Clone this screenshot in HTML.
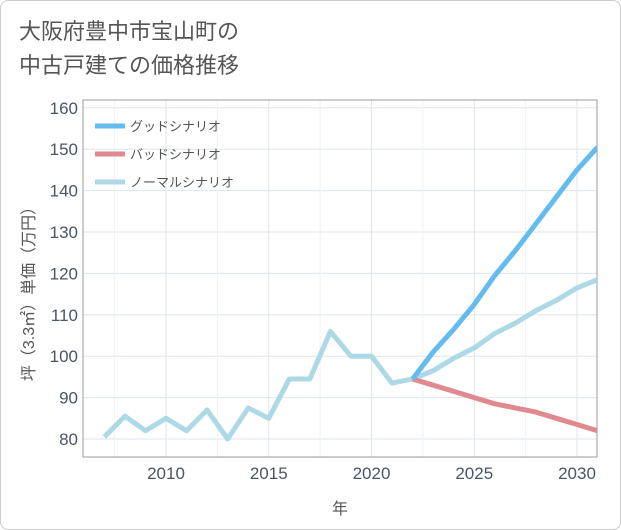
<!DOCTYPE html>
<html><head><meta charset="utf-8"><style>
body{margin:0;background:#fff;}
#wrap{position:relative;width:619px;height:528px;border:1px solid #ccc;border-radius:8px;background:#fff;overflow:hidden;font-family:"Liberation Sans","Noto Sans CJK JP",sans-serif;}
#title{position:absolute;left:18px;top:14px;font-size:22px;line-height:34px;color:#555;}
</style></head><body>
<div id="wrap">
<div id="title">大阪府豊中市宝山町の<br>中古戸建ての価格推移</div>
<svg id="chart" width="621" height="530" style="position:absolute;left:-1px;top:-1px"></svg>
</div>
<script>
const histYears=[2007,2008,2009,2010,2011,2012,2013,2014,2015,2016,2017,2018,2019,2020,2021,2022];
const histVals=[80.5,85.5,82,85,82,87,80,87.5,85,94.5,94.5,106,100,100,93.5,94.5];
const fcYears=[2022,2023,2024,2025,2026,2027,2028,2029,2030,2031];
const goodVals=[94.5,101,106.5,112.5,119.5,125.5,132,138.5,145,150.5];
const badVals=[94.5,93,91.5,90,88.5,87.5,86.5,85,83.5,82];
const normVals=[94.5,96.5,99.5,102,105.5,108,111,113.5,116.5,118.5];
const xTicks=[2010,2015,2020,2025,2030];
const yTicks=[80,90,100,110,120,130,140,150,160];
const L=83,R=597,T=100,B=457;
const x=v=>166+(v-2010)*20.55;
const y=v=>439-(v-80)*4.14;
const svg=document.getElementById('chart');
const NS='http://www.w3.org/2000/svg';
function mk(t,a,p){const e=document.createElementNS(NS,t);for(const k in a)e.setAttribute(k,a[k]);(p||svg).appendChild(e);return e;}
const defs=mk('defs',{});
const cp=mk('clipPath',{id:'plotclip'},defs);
mk('rect',{x:L,y:T,width:R-L,height:B-T},cp);
let g=mk('g',{});


yTicks.forEach(v=>{mk('line',{x1:L,x2:R,y1:y(v),y2:y(v),stroke:'#dde6ee'},g);
const t=mk('text',{x:L-5,y:y(v)+6,'text-anchor':'end','font-size':17,fill:'#4a5568'});t.textContent=v;
});
xTicks.forEach(v=>{mk('line',{x1:x(v),x2:x(v),y1:T,y2:B,stroke:'#dde6ee'},g);
const t=mk('text',{x:x(v),y:B+22,'text-anchor':'middle','font-size':17,fill:'#4a5568'});t.textContent=v;
});
[2007.5,2012.5,2017.5,2022.5,2027.5].forEach(v=>mk('line',{x1:x(v),x2:x(v),y1:T,y2:B,stroke:'#eef2f6'},g));
mk('rect',{x:L,y:T,width:R-L,height:B-T,fill:'none',stroke:'#999'});
let xt=mk('text',{x:340,y:514,'text-anchor':'middle','font-size':16,fill:'#555'});xt.textContent='年';

let yt=mk('text',{x:0,y:0,'text-anchor':'middle','font-size':16,fill:'#555',transform:'translate(34,290) rotate(-90)'});yt.textContent='坪（3.3㎡）単価（万円）';

const lg=mk('g',{'clip-path':'url(#plotclip)'});
function line(xs,vs,c,n){const p=mk('polyline',{points:xs.map((a,i)=>x(a)+','+y(vs[i])).join(' '),fill:'none',stroke:c,'stroke-width':5,'stroke-linejoin':'round'},lg);
}
line(histYears,histVals,'#add8e6','history-line');
line(fcYears,normVals,'#add8e6','normal-scenario-line');
line(fcYears,badVals,'#e08a8f','bad-scenario-line');
line(fcYears,goodVals,'#63bbf0','good-scenario-line');
const leg=[['グッドシナリオ','#63bbf0'],['バッドシナリオ','#e08a8f'],['ノーマルシナリオ','#add8e6']];
leg.forEach((l,i)=>{const gg=mk('g',{});
mk('line',{x1:95,x2:125,y1:126+i*28,y2:126+i*28,stroke:l[1],'stroke-width':5},gg);
const t=mk('text',{x:130,y:131+i*28,'font-size':13,fill:'#555'},gg);t.textContent=l[0];});
</script></body></html>
